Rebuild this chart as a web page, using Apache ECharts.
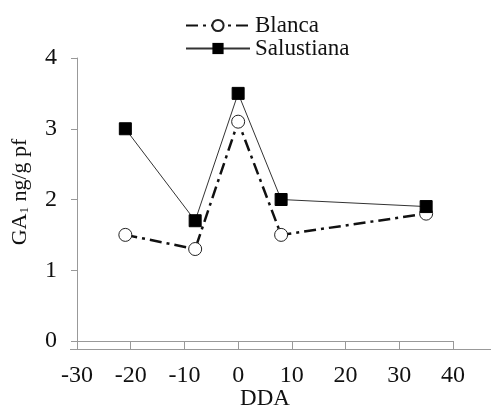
<!DOCTYPE html>
<html><head><meta charset="utf-8">
<script src="https://cdn.jsdelivr.net/npm/echarts@6/dist/echarts.min.js"></script>
<style>html,body{margin:0;padding:0;background:#fff}#c{width:491px;height:408px}</style>
</head><body><div id="c"></div>
<script>
const ddaX = [-21, -8, 0, 8, 35];
const blanca = [1.5, 1.3, 3.1, 1.5, 1.8];
const salustiana = [3.0, 1.7, 3.5, 2.0, 1.9];
const xTicks = [-30, -20, -10, 0, 10, 20, 30, 40];
const yTicks = [0, 1, 2, 3, 4];

const font = 'Liberation Serif, Times New Roman, serif';
const chart = echarts.init(document.getElementById('c'), null, {renderer: 'canvas'});
chart.setOption({
  animation: false,
  backgroundColor: '#fff',
  grid: {left: 77, right: 38, top: 58, bottom: 67, containLabel: false, outerBoundsMode: 'none'},
  legend: {
    orient: 'vertical', left: 180, top: 9, itemGap: 0, itemWidth: 64, itemHeight: 14,
    textStyle: {fontFamily: font, fontSize: 23, color: '#111', padding: [0,0,0,0]},
    data: ['Blanca', 'Salustiana']
  },
  xAxis: {
    type: 'value', min: xTicks[0], max: xTicks[xTicks.length-1], interval: 10,
    name: 'DDA', nameLocation: 'middle', nameGap: 46, nameMoveOverlap: false,
    nameTextStyle: {fontFamily: font, fontSize: 23, color: '#111'},
    axisLine: {onZero: false, lineStyle: {color: '#999', width: 1}},
    axisTick: {show: true, length: 8, lineStyle: {color: '#999'}},
    axisLabel: {fontFamily: font, fontSize: 24, color: '#111', margin: 23},
    splitLine: {show: false}
  },
  yAxis: {
    type: 'value', min: yTicks[0], max: yTicks[yTicks.length-1], interval: 1,
    name: '{a|GA}{s|1}{a| ng/g pf}', nameLocation: 'middle', nameGap: 46, nameRotate: 90, nameMoveOverlap: false,
    nameTextStyle: {fontFamily: font, fontSize: 22, color: '#111', padding: [0,0,0,15],
      rich: {a: {fontFamily: font, fontSize: 22, color: '#111'},
             s: {fontFamily: font, fontSize: 13, color: '#111', verticalAlign: 'bottom', padding:[8,0,0,0]}}},
    axisLine: {show: true, onZero: false, lineStyle: {color: '#999', width: 1}},
    axisTick: {show: true, length: 6, lineStyle: {color: '#999'}},
    axisLabel: {fontFamily: font, fontSize: 24, color: '#111', margin: 20},
    splitLine: {show: false}
  },
  graphic: [{type: 'line', shape: {x1: 70, y1: 349.5, x2: 491, y2: 349.5}, style: {stroke: '#999', lineWidth: 1}}],
  series: [
    {
      name: 'Blanca', type: 'line', z: 2,
      data: ddaX.map((x, i) => [x, blanca[i]]),
      symbol: 'circle', symbolSize: 13,
      itemStyle: {color: '#fff', borderColor: '#222', borderWidth: 1},
      lineStyle: {color: '#111', width: 2.5, type: [12, 5, 3, 5]}
    },
    {
      name: 'Salustiana', type: 'line', z: 3,
      data: ddaX.map((x, i) => [x, salustiana[i]]),
      symbol: 'rect', symbolSize: 12,
      itemStyle: {color: '#000', borderColor: '#000'},
      lineStyle: {color: '#333', width: 1}
    }
  ]
});
</script></body></html>
